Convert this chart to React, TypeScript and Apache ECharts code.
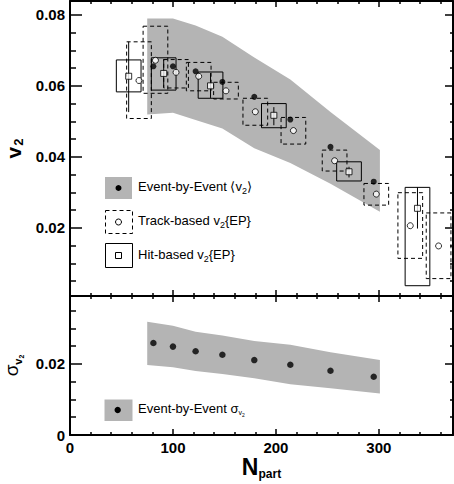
import React, { useEffect, useRef } from "react";
import * as echarts from "echarts";

// ---------------- data ----------------
// Event-by-Event <v2> (top panel) and sigma_v2 (bottom panel)
const nPartEbE = [81, 100, 122, 148, 179, 214, 253, 295];
const v2EbE = [0.0655, 0.0655, 0.0641, 0.0611, 0.0569, 0.0505, 0.0428, 0.033];
const v2BandN = [75, 100, 122, 148, 179, 214, 253, 301];
const v2BandUpper = [0.079, 0.079, 0.077, 0.0738, 0.068, 0.0618, 0.0526, 0.0419];
const v2BandLower = [0.0519, 0.0524, 0.0504, 0.048, 0.0424, 0.0383, 0.0324, 0.0245];

// Track-based v2{EP}
const nPartTrack = [67, 83, 103, 125, 151.5, 180, 217, 257, 297.5, 330.5, 358];
const v2Track = [0.0615, 0.0672, 0.0638, 0.0627, 0.0586, 0.0527, 0.0474, 0.0389, 0.0295, 0.0206, 0.0149];
const trackSysHigh = [0.0724, 0.0768, 0.0674, 0.0666, 0.061, 0.0565, 0.0511, 0.0419, 0.0325, 0.0299, 0.0242];
const trackSysLow = [0.0508, 0.0579, 0.0594, 0.0586, 0.0563, 0.0489, 0.0436, 0.036, 0.0264, 0.0114, 0.0057];

// Hit-based v2{EP}
const nPartHit = [57, 91, 136.5, 198, 271, 337.5];
const v2Hit = [0.0627, 0.0635, 0.06, 0.0517, 0.0358, 0.0255];
const hitSysHigh = [0.0673, 0.0679, 0.0639, 0.055, 0.0386, 0.0314];
const hitSysLow = [0.0583, 0.0588, 0.0565, 0.0482, 0.0332, 0.0037];
const hitErrHigh = [0.0724, 0.0675, 0.0636, 0.054, 0.0372, 0.0314];
const hitErrLow = [0.0526, 0.0596, 0.0566, 0.0489, 0.0342, 0.0198];

// sigma_v2
const nPartSigma = [81, 100, 122, 148, 179, 214, 253, 295];
const sigmaV2 = [0.0259, 0.0249, 0.0236, 0.0226, 0.0211, 0.0198, 0.0181, 0.0164];
const sigmaBandN = [75, 100, 122, 148, 179, 214, 253, 301];
const sigmaBandUpper = [0.0319, 0.0308, 0.0291, 0.028, 0.0265, 0.0254, 0.0233, 0.0211];
const sigmaBandLower = [0.0197, 0.0191, 0.018, 0.0172, 0.016, 0.0143, 0.0132, 0.0117];

// ticks
const xMajorTicks = [0, 100, 200, 300];
const xMinorTicks = [20, 40, 60, 80, 120, 140, 160, 180, 220, 240, 260, 280, 320, 340, 360];
const v2MajorTicks = [0.02, 0.04, 0.06, 0.08];
const v2MinorTicks = [0.005, 0.01, 0.015, 0.025, 0.03, 0.035, 0.045, 0.05, 0.055, 0.065, 0.07, 0.075];
const sigmaLabelTicks = [0, 0.02];
const sigmaMajorTicks = [0.02];
const sigmaMinorTicks = [0.005, 0.01, 0.015, 0.025, 0.03, 0.035];

// ranges
const X_MIN = 0;
const X_MAX = 372;
const V2_MIN = 0.0008;
const V2_MAX = 0.0839;
const SIG_MIN = 0;
const SIG_MAX = 0.03915;

const BOX_HALF = 12; // half-width of systematic boxes (Npart units)

// ---------------- style ----------------
const FONT = "'Liberation Sans', Arial, Helvetica, sans-serif";
const BAND = "#b4b4b4";

const axLine = (show: boolean) => ({ show, onZero: false, lineStyle: { color: "#000", width: 2 } });
const ticks = (values: number[], length: number, width = 1.5) => ({
  show: true,
  inside: true,
  length,
  customValues: values,
  lineStyle: { color: "#000", width },
});
const ax = (extra: any) => ({
  type: "value",
  splitLine: { show: false },
  axisLabel: { show: false },
  axisLine: axLine(false),
  axisTick: { show: false },
  ...extra,
});

const tickLabel = (values: number[], fmt: (v: number) => string) => ({
  show: true,
  customValues: values,
  formatter: fmt,
  color: "#000",
  fontFamily: FONT,
  fontWeight: "bold",
  fontSize: 15,
  margin: 5,
});

const bandRender = (N: number[], U: number[], L: number[]) => (params: any, api: any) => {
  if (params.dataIndex !== 0) return null;
  const pts: number[][] = [];
  for (let i = 0; i < N.length; i++) pts.push(api.coord([N[i], U[i]]));
  for (let i = N.length - 1; i >= 0; i--) pts.push(api.coord([N[i], L[i]]));
  return { type: "polygon", shape: { points: pts }, style: { fill: BAND }, silent: true };
};

const boxShape = (api: any, x: number, lo: number, hi: number, dashed: boolean) => {
  const a = api.coord([x - BOX_HALF, hi]);
  const b = api.coord([x + BOX_HALF, lo]);
  return {
    type: "rect",
    shape: { x: a[0], y: a[1], width: b[0] - a[0], height: b[1] - a[1] },
    style: { fill: "none", stroke: "#000", lineWidth: 1, lineDash: dashed ? [4, 3] : null },
  };
};

const legendText = (x: number, y: number, text: string, subSize = 9, subPad = 9) => ({
  type: "text",
  x,
  y,
  silent: true,
  style: {
    text,
    fontFamily: FONT,
    fontSize: 13,
    fill: "#000",
    verticalAlign: "middle",
    rich: {
      a: { fontFamily: FONT, fontSize: 13, fill: "#000" },
      b: { fontFamily: FONT, fontSize: subSize, fill: "#000", padding: [subPad, 0, 0, 0] },
      c: { fontFamily: FONT, fontSize: 5, fill: "#000", padding: [13, 0, 0, 0] },
    },
  },
});

export default function App() {
  const ref = useRef<HTMLDivElement>(null);

  useEffect(() => {
    if (!ref.current) return;
    const chart = echarts.init(ref.current, null, { renderer: "svg" });

    const xr = { min: X_MIN, max: X_MAX };
    const v2r = { min: V2_MIN, max: V2_MAX };
    const sr = { min: SIG_MIN, max: SIG_MAX };

    const option: any = {
      animation: false,
      backgroundColor: "#fff",
      grid: [
        { left: 70, top: 1, width: 383, height: 295, containLabel: false, outerBoundsMode: "none" },
        { left: 70, top: 296, width: 383, height: 139, containLabel: false, outerBoundsMode: "none" },
      ],
      xAxis: [
        ax({ ...xr, gridIndex: 0, position: "bottom", axisLine: axLine(true), axisTick: ticks(xMajorTicks, 6) }),
        ax({ ...xr, gridIndex: 0, position: "bottom", axisTick: ticks(xMinorTicks, 3) }),
        ax({ ...xr, gridIndex: 0, position: "top", axisLine: axLine(true), axisTick: ticks(xMajorTicks, 6) }),
        ax({ ...xr, gridIndex: 0, position: "top", axisTick: ticks(xMinorTicks, 3) }),
        ax({
          ...xr,
          gridIndex: 1,
          position: "bottom",
          axisLine: axLine(true),
          axisTick: ticks(xMajorTicks, 6),
          axisLabel: tickLabel(xMajorTicks, (v: number) => String(v)),
          name: "{N|N}{p|part}",
          nameLocation: "middle",
          nameGap: 1,
          nameTextStyle: {
            rich: {
              N: { fontFamily: FONT, fontWeight: "bold", fontSize: 23, color: "#000" },
              p: { fontFamily: FONT, fontWeight: "bold", fontSize: 12, color: "#000", padding: [13, 0, 0, 0] },
            },
          },
        }),
        ax({ ...xr, gridIndex: 1, position: "bottom", axisTick: ticks(xMinorTicks, 3) }),
        ax({ ...xr, gridIndex: 1, position: "top", axisLine: axLine(true), axisTick: ticks(xMajorTicks, 6) }),
        ax({ ...xr, gridIndex: 1, position: "top", axisTick: ticks(xMinorTicks, 3) }),
      ],
      yAxis: [
        ax({
          ...v2r,
          gridIndex: 0,
          position: "left",
          axisLine: axLine(true),
          axisTick: ticks(v2MajorTicks, 12),
          axisLabel: tickLabel(v2MajorTicks, (v: number) => v.toFixed(2)),
          name: "{v|v}{s|2}",
          nameLocation: "middle",
          nameRotate: 90,
          nameGap: 39,
          nameTextStyle: {
            rich: {
              v: { fontFamily: FONT, fontWeight: "bold", fontSize: 21, color: "#000" },
              s: { fontFamily: FONT, fontWeight: "bold", fontSize: 13, color: "#000", padding: [9, 0, 0, 1] },
            },
          },
        }),
        ax({ ...v2r, gridIndex: 0, position: "left", axisTick: ticks(v2MinorTicks, 6) }),
        ax({ ...v2r, gridIndex: 0, position: "right", axisLine: axLine(true), axisTick: ticks(v2MajorTicks, 8) }),
        ax({ ...v2r, gridIndex: 0, position: "right", axisTick: ticks(v2MinorTicks, 3) }),
        ax({
          ...sr,
          gridIndex: 1,
          position: "left",
          axisLine: axLine(true),
          axisTick: ticks(sigmaMajorTicks, 12),
          axisLabel: tickLabel(sigmaLabelTicks, (v: number) => (v === 0 ? "0" : v.toFixed(2))),
          name: "{g|σ}{v|v}{t|2}",
          nameLocation: "middle",
          nameRotate: 90,
          nameGap: 35,
          nameTextStyle: {
            rich: {
              g: { fontFamily: FONT, fontSize: 19, color: "#000" },
              v: { fontFamily: FONT, fontWeight: "bold", fontSize: 11, color: "#000", padding: [14, 0, 0, 0] },
              t: { fontFamily: FONT, fontWeight: "bold", fontSize: 7, color: "#000", padding: [20, 0, 0, 0] },
            },
          },
        }),
        ax({ ...sr, gridIndex: 1, position: "left", axisTick: ticks(sigmaMinorTicks, 6) }),
        ax({ ...sr, gridIndex: 1, position: "right", axisLine: axLine(true), axisTick: ticks(sigmaMajorTicks, 8) }),
        ax({ ...sr, gridIndex: 1, position: "right", axisTick: ticks(sigmaMinorTicks, 3) }),
      ],
      series: [
        {
          name: "Event-by-Event band",
          type: "custom",
          xAxisIndex: 0,
          yAxisIndex: 0,
          z: 1,
          silent: true,
          data: v2BandN.map((n, i) => [n, v2BandUpper[i], v2BandLower[i]]),
          encode: { x: 0, y: [1, 2] },
          renderItem: bandRender(v2BandN, v2BandUpper, v2BandLower),
        },
        {
          name: "Track-based boxes",
          type: "custom",
          xAxisIndex: 0,
          yAxisIndex: 0,
          z: 2,
          silent: true,
          data: nPartTrack.map((n, i) => [n, v2Track[i], trackSysLow[i], trackSysHigh[i]]),
          encode: { x: 0, y: [1, 2, 3] },
          renderItem: (params: any, api: any) =>
            boxShape(api, api.value(0), api.value(2), api.value(3), true),
        },
        {
          name: "Hit-based boxes",
          type: "custom",
          xAxisIndex: 0,
          yAxisIndex: 0,
          z: 2,
          silent: true,
          data: nPartHit.map((n, i) => [n, v2Hit[i], hitSysLow[i], hitSysHigh[i], hitErrLow[i], hitErrHigh[i]]),
          encode: { x: 0, y: [1, 2, 3, 4, 5] },
          renderItem: (params: any, api: any) => {
            const x = api.value(0);
            const e1 = api.coord([x, api.value(5)]);
            const e2 = api.coord([x, api.value(4)]);
            return {
              type: "group",
              children: [
                boxShape(api, x, api.value(2), api.value(3), false),
                {
                  type: "line",
                  shape: { x1: e1[0], y1: e1[1], x2: e2[0], y2: e2[1] },
                  style: { stroke: "#000", lineWidth: 1 },
                },
              ],
            };
          },
        },
        {
          name: "Track-based v2{EP}",
          type: "scatter",
          xAxisIndex: 0,
          yAxisIndex: 0,
          z: 3,
          silent: true,
          symbol: "circle",
          symbolSize: 6,
          itemStyle: { color: "#fff", borderColor: "#000", borderWidth: 1 },
          data: nPartTrack.map((n, i) => [n, v2Track[i]]),
        },
        {
          name: "Hit-based v2{EP}",
          type: "scatter",
          xAxisIndex: 0,
          yAxisIndex: 0,
          z: 3,
          silent: true,
          symbol: "rect",
          symbolSize: 6,
          itemStyle: { color: "#fff", borderColor: "#000", borderWidth: 1 },
          data: nPartHit.map((n, i) => [n, v2Hit[i]]),
        },
        {
          name: "Event-by-Event <v2>",
          type: "scatter",
          xAxisIndex: 0,
          yAxisIndex: 0,
          z: 4,
          silent: true,
          symbol: "circle",
          symbolSize: 6,
          itemStyle: { color: "#000" },
          data: nPartEbE.map((n, i) => [n, v2EbE[i]]),
        },
        {
          name: "sigma band",
          type: "custom",
          xAxisIndex: 4,
          yAxisIndex: 4,
          z: 1,
          silent: true,
          data: sigmaBandN.map((n, i) => [n, sigmaBandUpper[i], sigmaBandLower[i]]),
          encode: { x: 0, y: [1, 2] },
          renderItem: bandRender(sigmaBandN, sigmaBandUpper, sigmaBandLower),
        },
        {
          name: "Event-by-Event sigma_v2",
          type: "scatter",
          xAxisIndex: 4,
          yAxisIndex: 4,
          z: 4,
          silent: true,
          symbol: "circle",
          symbolSize: 6.5,
          itemStyle: { color: "#000" },
          data: nPartSigma.map((n, i) => [n, sigmaV2[i]]),
        },
      ],
      graphic: [
        // legend, top panel
        { type: "rect", shape: { x: 105, y: 177, width: 27, height: 22 }, style: { fill: BAND }, silent: true },
        { type: "circle", shape: { cx: 118.5, cy: 188, r: 3 }, style: { fill: "#000" }, silent: true },
        legendText(138, 186, "{a|Event-by-Event ⟨v}{b|2}{a|⟩}"),
        {
          type: "rect",
          shape: { x: 105.5, y: 210.5, width: 27, height: 23 },
          style: { fill: "none", stroke: "#000", lineWidth: 1, lineDash: [4, 3] },
          silent: true,
        },
        { type: "circle", shape: { cx: 118.5, cy: 222, r: 3 }, style: { fill: "#fff", stroke: "#000", lineWidth: 1 }, silent: true },
        legendText(138, 220, "{a|Track-based v}{b|2}{EP}"),
        {
          type: "rect",
          shape: { x: 105.5, y: 243.5, width: 27, height: 24 },
          style: { fill: "none", stroke: "#000", lineWidth: 1 },
          silent: true,
        },
        { type: "rect", shape: { x: 115.5, y: 252.5, width: 6, height: 6 }, style: { fill: "#fff", stroke: "#000", lineWidth: 1 }, silent: true },
        legendText(138, 254, "{a|Hit-based v}{b|2}{EP}"),
        // legend, bottom panel
        { type: "rect", shape: { x: 104.5, y: 399.5, width: 28, height: 21.5 }, style: { fill: BAND }, silent: true },
        { type: "circle", shape: { cx: 117.7, cy: 410, r: 3.2 }, style: { fill: "#000" }, silent: true },
        legendText(138, 408, "{a|Event-by-Event σ}{b|v}{c|2}", 7, 9),
      ],
    };

    chart.setOption(option);
    return () => chart.dispose();
  }, []);

  return (
    <div
      ref={ref}
      style={{ position: "absolute", left: 0, top: 0, width: 454, height: 484, background: "#fff" }}
    />
  );
}
